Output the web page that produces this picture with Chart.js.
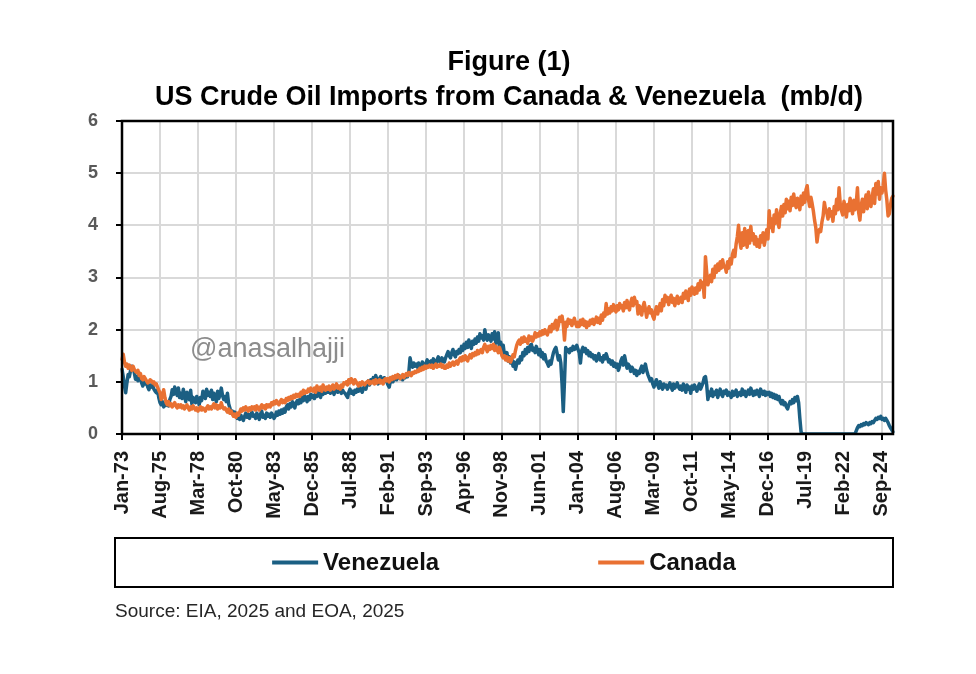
<!DOCTYPE html>
<html>
<head>
<meta charset="utf-8">
<title>US Crude Oil Imports from Canada & Venezuela</title>
<script src="https://cdn.jsdelivr.net/npm/chart.js@4.4.1/dist/chart.umd.min.js"></script>
<style>
  html, body { margin: 0; padding: 0; background: #fff; }
  #wrap { width: 976px; height: 674px; position: relative; }
</style>
</head>
<body>
<div id="wrap"><canvas id="oil-chart"></canvas></div>
<script>
// 圖表文字
const titleLines = ['Figure (1)', 'US Crude Oil Imports from Canada & Venezuela  (mb/d)'];
const sourceNote = 'Source: EIA, 2025 and EOA, 2025';
const watermark = '@anasalhajji';
const seriesNames = ['Venezuela', 'Canada'];

// 月份標籤 (Jan-73 起)
const firstYear = 1973;
const monthNames = ['Jan', 'Feb', 'Mar', 'Apr', 'May', 'Jun', 'Jul', 'Aug', 'Sep', 'Oct', 'Nov', 'Dec'];
const tickLabels = ['Jan-73', 'Aug-75', 'Mar-78', 'Oct-80', 'May-83', 'Dec-85', 'Jul-88', 'Feb-91',
    'Sep-93', 'Apr-96', 'Nov-98', 'Jun-01', 'Jan-04', 'Aug-06', 'Mar-09', 'Oct-11', 'May-14',
    'Dec-16', 'Jul-19', 'Feb-22', 'Sep-24'];
const yTicks = [0, 1, 2, 3, 4, 5, 6];

// 委內瑞拉 (mb/d)，每行一年
const venezuela = [
    1.24, 1.10, 0.92, 0.79, 0.98, 1.14, 1.10, 1.22, 1.30, 1.26, 1.18, 1.05, // 1973
    1.10, 1.02, 1.17, 1.08, 0.98, 0.92, 1.04, 0.96, 1.00, 0.90, 0.85, 0.94,
    0.90, 0.95, 0.86, 0.82, 0.79, 0.84, 0.70, 0.60, 0.56, 0.62, 0.52, 0.58,
    0.55, 0.60, 0.54, 0.66, 0.72, 0.85, 0.76, 0.90, 0.80, 0.74, 0.88, 0.70,
    0.78, 0.68, 0.86, 0.74, 0.62, 0.80, 0.72, 0.66, 0.84, 0.58, 0.70, 0.64,
    0.60, 0.72, 0.66, 0.56, 0.70, 0.64, 0.82, 0.76, 0.68, 0.86, 0.74, 0.80, // 1978
    0.72, 0.84, 0.66, 0.78, 0.70, 0.62, 0.82, 0.68, 0.76, 0.88, 0.74, 0.66,
    0.72, 0.62, 0.78, 0.58, 0.50, 0.40, 0.44, 0.36, 0.42, 0.38, 0.30, 0.34,
    0.28, 0.36, 0.30, 0.26, 0.34, 0.40, 0.32, 0.38, 0.30, 0.36, 0.42, 0.34,
    0.36, 0.30, 0.40, 0.34, 0.28, 0.38, 0.44, 0.32, 0.36, 0.30, 0.40, 0.34,
    0.38, 0.32, 0.40, 0.36, 0.30, 0.34, 0.42, 0.36, 0.44, 0.38, 0.46, 0.40, // 1983
    0.48, 0.42, 0.52, 0.56, 0.48, 0.58, 0.52, 0.62, 0.56, 0.50, 0.60, 0.64,
    0.58, 0.66, 0.60, 0.70, 0.64, 0.74, 0.68, 0.62, 0.72, 0.66, 0.76, 0.70,
    0.74, 0.68, 0.78, 0.72, 0.80, 0.74, 0.70, 0.82, 0.76, 0.84, 0.78, 0.86,
    0.80, 0.86, 0.78, 0.88, 0.82, 0.76, 0.84, 0.90, 0.80, 0.86, 0.82, 0.78,
    0.84, 0.80, 0.78, 0.74, 0.70, 0.80, 0.86, 0.78, 0.82, 0.76, 0.84, 0.80, // 1988
    0.86, 0.82, 0.90, 0.84, 0.80, 0.88, 0.92, 0.86, 0.96, 1.02, 0.94, 1.04,
    1.00, 1.08, 0.98, 1.12, 1.04, 0.96, 1.06, 1.10, 1.02, 0.98, 1.08, 1.04,
    1.00, 0.94, 0.90, 1.02, 1.08, 1.00, 1.06, 1.10, 1.04, 1.08, 1.12, 1.06,
    1.10, 1.04, 1.12, 1.08, 1.14, 1.10, 1.18, 1.46, 1.34, 1.28, 1.36, 1.30,
    1.34, 1.28, 1.36, 1.30, 1.26, 1.38, 1.32, 1.28, 1.36, 1.42, 1.34, 1.38, // 1993
    1.40, 1.34, 1.44, 1.38, 1.32, 1.42, 1.48, 1.40, 1.36, 1.46, 1.42, 1.38,
    1.46, 1.52, 1.58, 1.50, 1.46, 1.56, 1.62, 1.52, 1.48, 1.58, 1.54, 1.62,
    1.56, 1.68, 1.60, 1.72, 1.64, 1.76, 1.66, 1.80, 1.70, 1.64, 1.78, 1.72,
    1.82, 1.74, 1.86, 1.78, 1.92, 1.84, 1.88, 1.80, 2.00, 1.86, 1.80, 1.90,
    1.84, 1.78, 1.92, 1.82, 1.96, 1.74, 1.88, 1.94, 1.62, 1.76, 1.58, 1.70, // 1998
    1.52, 1.44, 1.56, 1.40, 1.48, 1.36, 1.44, 1.30, 1.38, 1.24, 1.34, 1.42,
    1.36, 1.48, 1.42, 1.56, 1.50, 1.62, 1.54, 1.66, 1.58, 1.70, 1.72, 1.60,
    1.64, 1.56, 1.68, 1.60, 1.52, 1.62, 1.48, 1.56, 1.44, 1.52, 1.40, 1.36,
    1.30, 1.40, 1.34, 1.46, 1.56, 1.62, 1.66, 1.54, 1.42, 1.50, 1.36, 0.96,
    0.43, 1.02, 1.66, 1.58, 1.62, 1.56, 1.64, 1.60, 1.68, 1.62, 1.66, 1.70, // 2003
    1.62, 1.56, 1.36, 1.60, 1.66, 1.58, 1.64, 1.54, 1.60, 1.50, 1.56, 1.48,
    1.52, 1.44, 1.50, 1.40, 1.48, 1.54, 1.42, 1.46, 1.38, 1.50, 1.44, 1.54,
    1.46, 1.38, 1.42, 1.34, 1.40, 1.30, 1.36, 1.28, 1.34, 1.22, 1.30, 1.40,
    1.46, 1.32, 1.50, 1.38, 1.26, 1.34, 1.30, 1.20, 1.28, 1.24, 1.16, 1.22,
    1.12, 1.20, 1.16, 1.24, 1.30, 1.18, 1.26, 1.34, 1.22, 1.14, 1.08, 1.02, // 2008
    1.06, 0.96, 0.90, 0.98, 1.04, 0.94, 0.88, 1.00, 0.92, 0.86, 0.96, 0.90,
    0.94, 0.86, 0.92, 0.98, 0.90, 0.84, 0.96, 0.88, 0.92, 0.98, 0.90, 0.86,
    0.92, 0.84, 0.96, 0.88, 0.80, 0.94, 0.86, 0.90, 0.78, 0.92, 0.86, 0.94,
    0.88, 0.82, 0.90, 0.96, 0.86, 0.92, 0.98, 1.08, 1.10, 0.94, 0.66, 0.80,
    0.74, 0.86, 0.72, 0.80, 0.76, 0.84, 0.70, 0.78, 0.86, 0.76, 0.72, 0.82, // 2013
    0.78, 0.84, 0.74, 0.80, 0.76, 0.70, 0.82, 0.74, 0.78, 0.84, 0.72, 0.78,
    0.80, 0.74, 0.86, 0.76, 0.82, 0.72, 0.78, 0.84, 0.76, 0.88, 0.80, 0.74,
    0.82, 0.76, 0.84, 0.78, 0.72, 0.86, 0.80, 0.76, 0.82, 0.74, 0.80, 0.76,
    0.80, 0.72, 0.78, 0.70, 0.76, 0.68, 0.74, 0.66, 0.72, 0.62, 0.58, 0.64,
    0.56, 0.60, 0.52, 0.48, 0.56, 0.62, 0.58, 0.66, 0.60, 0.70, 0.64, 0.72, // 2018
    0.60, 0.30, 0.04, 0.00, 0.00, 0.00, 0.00, 0.00, 0.00, 0.00, 0.00, 0.00,
    0.00, 0.00, 0.00, 0.00, 0.00, 0.00, 0.00, 0.00, 0.00, 0.00, 0.00, 0.00,
    0.00, 0.00, 0.00, 0.00, 0.00, 0.00, 0.00, 0.00, 0.00, 0.00, 0.00, 0.00,
    0.00, 0.00, 0.00, 0.00, 0.00, 0.00, 0.00, 0.00, 0.00, 0.00, 0.00, 0.06,
    0.12, 0.16, 0.14, 0.18, 0.16, 0.20, 0.18, 0.22, 0.20, 0.18, 0.22, 0.20, // 2023
    0.24, 0.22, 0.26, 0.30, 0.28, 0.32, 0.30, 0.34, 0.28, 0.30, 0.26, 0.30,
    0.26, 0.22, 0.16, 0.12, 0.08, 0.04                                      // 2025
];

// 加拿大 (mb/d)，每行一年
const canada = [
    1.43, 1.53, 1.38, 1.30, 1.34, 1.26, 1.32, 1.28, 1.22, 1.30, 1.24, 1.20, // 1973
    1.18, 1.22, 1.12, 1.16, 1.06, 1.04, 1.10, 1.06, 1.02, 0.98, 1.00, 1.04,
    1.02, 0.98, 1.00, 0.94, 0.96, 0.90, 0.84, 0.79, 0.66, 0.74, 0.85, 0.70,
    0.60, 0.56, 0.62, 0.54, 0.58, 0.52, 0.56, 0.60, 0.54, 0.50, 0.56, 0.52,
    0.56, 0.50, 0.54, 0.48, 0.52, 0.56, 0.50, 0.46, 0.52, 0.48, 0.54, 0.50,
    0.46, 0.50, 0.44, 0.48, 0.52, 0.46, 0.50, 0.48, 0.44, 0.50, 0.54, 0.48, // 1978
    0.52, 0.48, 0.54, 0.58, 0.50, 0.56, 0.48, 0.54, 0.50, 0.60, 0.52, 0.48,
    0.50, 0.46, 0.42, 0.48, 0.40, 0.44, 0.38, 0.34, 0.38, 0.32, 0.40, 0.36,
    0.42, 0.48, 0.44, 0.50, 0.46, 0.52, 0.48, 0.44, 0.50, 0.46, 0.52, 0.48,
    0.52, 0.46, 0.54, 0.50, 0.46, 0.52, 0.56, 0.50, 0.54, 0.48, 0.56, 0.52,
    0.56, 0.52, 0.60, 0.56, 0.62, 0.58, 0.64, 0.60, 0.56, 0.62, 0.66, 0.60, // 1983
    0.64, 0.60, 0.68, 0.64, 0.70, 0.66, 0.72, 0.68, 0.74, 0.70, 0.76, 0.72,
    0.76, 0.72, 0.80, 0.76, 0.84, 0.78, 0.82, 0.80, 0.86, 0.82, 0.88, 0.84,
    0.82, 0.88, 0.80, 0.92, 0.86, 0.84, 0.90, 0.82, 0.94, 0.88, 0.84, 0.90,
    0.86, 0.92, 0.84, 0.88, 0.94, 0.86, 0.90, 0.96, 0.88, 0.92, 0.86, 0.94,
    0.90, 0.98, 0.96, 1.00, 0.94, 1.04, 0.98, 1.06, 1.02, 0.96, 1.04, 1.00, // 1988
    0.96, 0.92, 0.98, 0.94, 1.00, 0.96, 0.94, 0.98, 1.00, 1.02, 0.96, 1.00,
    0.98, 1.02, 0.96, 1.04, 0.98, 1.00, 1.04, 0.98, 1.02, 0.96, 1.04, 1.06,
    1.02, 1.06, 1.00, 1.08, 1.04, 1.10, 1.06, 1.12, 1.08, 1.14, 1.10, 1.06,
    1.10, 1.14, 1.08, 1.12, 1.16, 1.12, 1.18, 1.14, 1.12, 1.18, 1.16, 1.20,
    1.18, 1.22, 1.20, 1.26, 1.22, 1.28, 1.24, 1.30, 1.26, 1.30, 1.28, 1.32, // 1993
    1.28, 1.32, 1.26, 1.30, 1.34, 1.28, 1.32, 1.30, 1.34, 1.28, 1.32, 1.26,
    1.26, 1.32, 1.28, 1.36, 1.30, 1.34, 1.38, 1.32, 1.36, 1.40, 1.34, 1.42,
    1.46, 1.40, 1.48, 1.42, 1.50, 1.44, 1.40, 1.48, 1.52, 1.46, 1.54, 1.50,
    1.56, 1.52, 1.60, 1.54, 1.58, 1.62, 1.56, 1.66, 1.72, 1.64, 1.58, 1.68,
    1.62, 1.70, 1.64, 1.72, 1.60, 1.68, 1.62, 1.56, 1.66, 1.58, 1.50, 1.46, // 1998
    1.50, 1.42, 1.48, 1.40, 1.46, 1.38, 1.44, 1.52, 1.48, 1.60, 1.70, 1.76,
    1.80, 1.72, 1.84, 1.76, 1.86, 1.78, 1.82, 1.74, 1.88, 1.80, 1.86, 1.78,
    1.84, 1.94, 1.86, 1.92, 1.88, 1.96, 1.90, 1.98, 1.92, 2.00, 1.94, 1.90,
    1.98, 2.06, 1.96, 2.10, 2.02, 2.12, 2.18, 2.00, 2.08, 2.24, 2.16, 2.26,
    2.10, 1.80, 2.14, 2.06, 2.20, 2.12, 2.18, 2.08, 2.14, 2.22, 2.12, 2.06, // 2003
    2.14, 2.06, 2.18, 2.10, 2.20, 2.08, 2.16, 2.04, 2.14, 2.08, 2.18, 2.12,
    2.20, 2.10, 2.16, 2.24, 2.14, 2.22, 2.12, 2.28, 2.18, 2.32, 2.26, 2.50,
    2.30, 2.40, 2.32, 2.44, 2.36, 2.48, 2.40, 2.34, 2.46, 2.38, 2.50, 2.42,
    2.46, 2.36, 2.52, 2.42, 2.56, 2.44, 2.38, 2.52, 2.60, 2.46, 2.62, 2.50,
    2.54, 2.30, 2.46, 2.38, 2.28, 2.44, 2.52, 2.40, 2.24, 2.36, 2.44, 2.32, // 2008
    2.38, 2.26, 2.20, 2.34, 2.44, 2.30, 2.40, 2.50, 2.36, 2.58, 2.46, 2.66,
    2.54, 2.62, 2.48, 2.58, 2.66, 2.52, 2.60, 2.46, 2.56, 2.64, 2.50, 2.58,
    2.62, 2.52, 2.70, 2.60, 2.74, 2.64, 2.56, 2.78, 2.66, 2.82, 2.72, 2.68,
    2.80, 2.70, 2.88, 2.76, 2.94, 2.82, 2.90, 2.62, 3.40, 3.10, 2.86, 2.96,
    3.04, 2.92, 3.16, 3.00, 3.22, 3.10, 3.26, 3.14, 3.30, 3.18, 3.34, 3.20, // 2013
    3.22, 3.10, 3.30, 3.18, 3.36, 3.26, 3.44, 3.52, 3.40, 3.64, 3.78, 4.00,
    3.70, 3.56, 3.86, 3.62, 3.94, 3.74, 3.58, 3.90, 3.66, 3.98, 3.72, 3.84,
    3.64, 3.78, 3.60, 3.72, 3.58, 3.80, 3.68, 3.86, 3.62, 3.76, 3.92, 3.74,
    4.28, 3.96, 4.12, 3.88, 4.20, 4.04, 4.30, 4.10, 3.96, 4.22, 4.36, 4.18,
    4.40, 4.24, 4.50, 4.32, 4.46, 4.28, 4.54, 4.38, 4.60, 4.42, 4.34, 4.52, // 2018
    4.48, 4.30, 4.56, 4.40, 4.62, 4.44, 4.68, 4.76, 4.50, 4.36, 4.54, 4.42,
    4.28, 4.10, 3.96, 3.68, 3.86, 3.92, 3.88, 4.06, 4.18, 4.44, 4.30, 4.24,
    4.12, 4.32, 4.18, 4.26, 4.08, 4.36, 4.22, 4.50, 4.30, 4.72, 4.40, 4.28,
    4.20, 4.46, 4.34, 4.16, 4.40, 4.28, 4.52, 4.36, 4.22, 4.48, 4.30, 4.42,
    4.72, 4.24, 4.10, 4.38, 4.50, 4.26, 4.44, 4.58, 4.32, 4.64, 4.46, 4.36, // 2023
    4.54, 4.70, 4.42, 4.80, 4.60, 4.84, 4.50, 4.72, 4.62, 4.76, 5.00, 4.68,
    4.48, 4.18, 4.22, 4.40, 4.52, 4.56                                      // 2025
];

const colors = { venezuela: '#1b5f83', canada: '#e97132', grid: '#d9d9d9' };
const fontFamily = "'Liberation Sans', Arial, sans-serif";
Chart.defaults.font.family = fontFamily;

const months = canada.map((_, i) =>
    monthNames[i % 12] + '-' + String((firstYear + Math.floor(i / 12)) % 100).padStart(2, '0'));

function isLabeled(i) {
    return tickLabels.includes(months[i]);
}

// 外框、標題、浮水印、圖例、資料來源
const decorations = {
    id: 'decorations',
    beforeDatasetsDraw(chart) {
        const ctx = chart.ctx;
        ctx.save();
        ctx.fillStyle = '#8c8c8c';
        ctx.font = '27px ' + fontFamily;
        ctx.textBaseline = 'alphabetic';
        ctx.fillText(watermark, 190, 357);
        ctx.restore();
    },
    afterDatasetsDraw(chart) {
        const { ctx, chartArea: a } = chart;
        ctx.save();
        ctx.strokeStyle = '#000';
        ctx.lineWidth = 2.5;
        ctx.strokeRect(a.left, a.top, a.right - a.left, a.bottom - a.top);
        ctx.restore();
    },
    afterDraw(chart) {
        const { ctx, chartArea: a } = chart;
        ctx.save();

        // 標題
        ctx.fillStyle = '#000';
        ctx.textAlign = 'center';
        ctx.textBaseline = 'alphabetic';
        ctx.font = 'bold 27px ' + fontFamily;
        ctx.fillText(titleLines[0], 509, 70);
        ctx.fillText(titleLines[1], 509, 105);

        // 圖例框
        const boxLeft = 115, boxRight = a.right, boxTop = 538, boxBottom = 587;
        ctx.lineWidth = 2;
        ctx.strokeStyle = '#000';
        ctx.strokeRect(boxLeft, boxTop, boxRight - boxLeft, boxBottom - boxTop);

        ctx.font = 'bold 24px ' + fontFamily;
        ctx.textAlign = 'left';
        ctx.textBaseline = 'middle';
        const sample = 46, gap = 5, between = 159;
        const widths = chart.data.datasets.map(d => sample + gap + ctx.measureText(d.label).width);
        const total = widths.reduce((s, w) => s + w, 0) + between * (widths.length - 1);
        let x = (boxLeft + boxRight) / 2 - total / 2;
        const midY = (boxTop + boxBottom) / 2;
        chart.data.datasets.forEach((d, i) => {
            ctx.strokeStyle = d.borderColor;
            ctx.lineWidth = 4;
            ctx.beginPath();
            ctx.moveTo(x, midY);
            ctx.lineTo(x + sample, midY);
            ctx.stroke();
            ctx.fillStyle = '#111';
            ctx.fillText(d.label, x + sample + gap, midY + 1);
            x += widths[i] + between;
        });

        // 資料來源
        ctx.font = '19px ' + fontFamily;
        ctx.fillStyle = '#262626';
        ctx.textBaseline = 'alphabetic';
        ctx.fillText(sourceNote, 115, 617);
        ctx.restore();
    }
};

new Chart(document.getElementById('oil-chart').getContext('2d'), {
    type: 'line',
    data: {
        labels: months,
        datasets: [
            {
                label: seriesNames[0],
                data: venezuela,
                borderColor: colors.venezuela,
                backgroundColor: colors.venezuela,
                borderWidth: 3.5,
                pointRadius: 0,
                tension: 0,
                borderJoinStyle: 'round',
                borderCapStyle: 'round',
                order: 1
            },
            {
                label: seriesNames[1],
                data: canada,
                borderColor: colors.canada,
                backgroundColor: colors.canada,
                borderWidth: 3.5,
                pointRadius: 0,
                tension: 0,
                borderJoinStyle: 'round',
                borderCapStyle: 'round',
                order: 0
            }
        ]
    },
    options: {
        responsive: true,
        maintainAspectRatio: false,
        animation: false,
        events: [],
        layout: { padding: { top: 121, left: 0, right: 83, bottom: 0 } },
        plugins: {
            legend: { display: false },
            title: { display: false },
            tooltip: { enabled: false }
        },
        scales: {
            x: {
                type: 'category',
                border: { display: false },
                grid: {
                    color: c => isLabeled(c.index) ? colors.grid : 'rgba(0,0,0,0)',
                    tickColor: c => isLabeled(c.index) ? '#000' : 'rgba(0,0,0,0)',
                    lineWidth: 2,
                    tickLength: 6
                },
                ticks: {
                    autoSkip: false,
                    minRotation: 90,
                    maxRotation: 90,
                    padding: 11,
                    color: '#1a1a1a',
                    font: { size: 20, weight: 'bold' },
                    callback(v, i) { return isLabeled(i) ? months[i] : ''; }
                },
                afterFit(scale) { scale.height = 240; }
            },
            y: {
                min: yTicks[0],
                max: yTicks[yTicks.length - 1],
                border: { display: false },
                grid: { color: colors.grid, lineWidth: 2, tickColor: '#000', tickLength: 6 },
                ticks: {
                    stepSize: 1,
                    padding: 18,
                    color: '#595959',
                    font: { size: 18, weight: 'bold' }
                },
                afterFit(scale) { scale.width = 122; }
            }
        }
    },
    plugins: [decorations]
});
</script>
</body>
</html>
